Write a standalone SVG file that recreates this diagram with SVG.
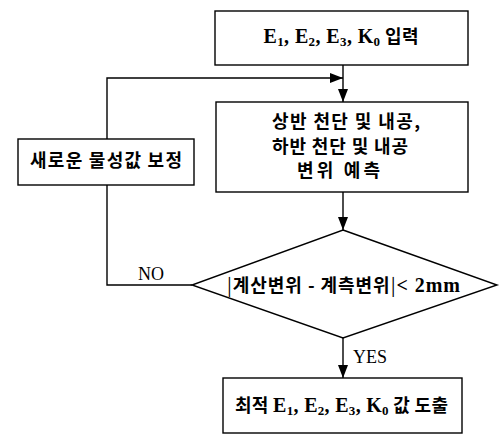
<svg xmlns="http://www.w3.org/2000/svg" width="500" height="445" viewBox="0 0 500 445">
<defs>
<marker id="arr" markerWidth="13" markerHeight="10" refX="13" refY="5" orient="auto" markerUnits="userSpaceOnUse">
<path d="M0,0 L13,5 L0,10 Z" fill="#000"/>
</marker>
<style>
.box{fill:#fff;stroke:#000;stroke-width:1.4}
.ln{fill:none;stroke:#000;stroke-width:1.4}
.t{font-family:"Liberation Serif","Noto Sans CJK KR",serif;font-weight:bold;font-size:20px;text-anchor:middle;fill:#000}
.k{font-family:"Noto Sans CJK KR","Liberation Sans",sans-serif;font-weight:bold;font-size:18px;text-anchor:middle;fill:#000}
.h{font-family:"Noto Sans CJK KR",sans-serif;font-size:18px}
.lab{font-family:"Liberation Serif",serif;font-size:18px;text-anchor:middle;fill:#000}
.sub{font-size:13px}
</style>
</defs>
<rect width="500" height="445" fill="#fff"/>
<g id="connectors">
<path class="ln" d="M343,65 L343,102" marker-end="url(#arr)"/>
<path class="ln" d="M192,285 L107,285 L107,185"/>
<path class="ln" d="M107,139 L107,78 L343,78" marker-end="url(#arr)"/>
<path class="ln" d="M343,192 L343,230" marker-end="url(#arr)"/>
<path class="ln" d="M343,338 L343,378" marker-end="url(#arr)"/>
<text class="lab" x="151" y="280">NO</text>
<text class="lab" x="370" y="363">YES</text>
</g>
<g id="input">
<rect class="box" x="215" y="11" width="253" height="54"/>
<text class="t" x="341" y="43" textLength="155" lengthAdjust="spacing">E<tspan class="sub" dy="3">1</tspan><tspan dy="-3">, E</tspan><tspan class="sub" dy="3">2</tspan><tspan dy="-3">, E</tspan><tspan class="sub" dy="3">3</tspan><tspan dy="-3">, K</tspan><tspan class="sub" dy="3">0</tspan><tspan dy="-3" class="h"> 입력</tspan></text>
</g>
<g id="predict">
<rect class="box" x="216" y="102" width="252" height="90"/>
<text class="k" x="346" y="128" textLength="148" lengthAdjust="spacing">상반 천단 및 내공,</text>
<text class="k" x="340" y="153" textLength="136" lengthAdjust="spacing">하반 천단 및 내공</text>
<text class="k" x="338.5" y="177" textLength="83" lengthAdjust="spacing">변위 예측</text>
</g>
<g id="correct">
<rect class="box" x="18" y="139" width="176" height="46"/>
<text class="k" x="106" y="167" textLength="152" lengthAdjust="spacing">새로운 물성값 보정</text>
</g>
<g id="decision">
<polygon class="box" points="343,230 497,285 343,338 192,285"/>
<text class="k" x="343.5" y="292" textLength="233" lengthAdjust="spacing"><tspan font-weight="normal">|</tspan>계산변위 - 계측변위<tspan font-weight="normal">|</tspan><tspan font-family="Liberation Serif,serif" font-size="20">&lt; 2mm</tspan></text>
</g>
<g id="output">
<rect class="box" x="223" y="378" width="239" height="55"/>
<text class="t" x="341.5" y="412" textLength="213" lengthAdjust="spacing"><tspan class="h">최적 </tspan>E<tspan class="sub" dy="3">1</tspan><tspan dy="-3">, E</tspan><tspan class="sub" dy="3">2</tspan><tspan dy="-3">, E</tspan><tspan class="sub" dy="3">3</tspan><tspan dy="-3">, K</tspan><tspan class="sub" dy="3">0</tspan><tspan dy="-3" class="h"> 값 도출</tspan></text>
</g>
</svg>
